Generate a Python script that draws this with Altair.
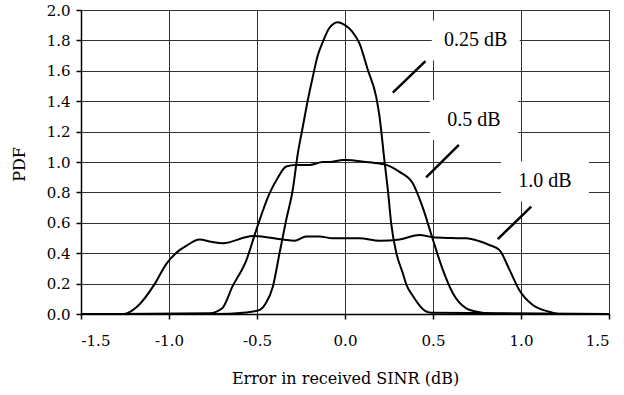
import altair as alt
import pandas as pd

# 0.25 dB curve
x025 = [-1.5, -0.75, -0.56, -0.486, -0.45, -0.41, -0.372, -0.334, -0.297, -0.268, -0.24, -0.211, -0.183,
        -0.155, -0.126, -0.09, -0.041, 0.0, 0.04, 0.082, 0.13, 0.177, 0.196, 0.224, 0.245, 0.262, 0.292,
        0.328, 0.35, 0.385, 0.44, 0.49, 1.5]
y025 = [0.0, 0.0, 0.01, 0.026, 0.07, 0.18, 0.40, 0.62, 0.816, 1.057, 1.23, 1.41, 1.56,
        1.70, 1.79, 1.88, 1.92, 1.90, 1.86, 1.78, 1.605, 1.43, 1.30, 1.01, 0.80, 0.60, 0.40,
        0.27, 0.19, 0.12, 0.035, 0.008, 0.0]

# 0.5 dB curve
x05 = [-1.5, -0.77, -0.696, -0.64, -0.56, -0.505, -0.43, -0.38, -0.334, -0.28, -0.202, -0.126, -0.088,
       -0.01, 0.007, 0.12, 0.196, 0.215, 0.31, 0.385, 0.44, 0.50, 0.556, 0.613, 0.689, 0.764, 0.84, 1.5]
y05 = [0.0, 0.005, 0.04, 0.18, 0.355, 0.55, 0.79, 0.90, 0.97, 0.98, 0.98, 1.0, 1.0,
       1.013, 1.013, 1.0, 0.99, 0.987, 0.935, 0.86, 0.706, 0.487, 0.29, 0.136, 0.037, 0.011, 0.0, 0.0]

# 1.0 dB curve
x10 = [-1.5, -1.26, -1.18, -1.08, -1.015, -0.94, -0.90, -0.827, -0.76, -0.694, -0.524, -0.353, -0.287,
       -0.22, -0.145, -0.07, 0.082, 0.196, 0.31, 0.423, 0.50, 0.60, 0.689, 0.76, 0.82, 0.878, 0.935,
       0.99, 1.067, 1.16, 1.22, 1.5]
y10 = [0.0, 0.0, 0.05, 0.2, 0.33, 0.42, 0.45, 0.49, 0.475, 0.465, 0.513, 0.49, 0.482,
       0.51, 0.51, 0.498, 0.498, 0.482, 0.49, 0.52, 0.505, 0.50, 0.498, 0.48, 0.454, 0.42, 0.29,
       0.158, 0.059, 0.015, 0.0, 0.0]

labels = ["0.25 dB", "0.5 dB", "1.0 dB"]
label_x = [0.743, 0.733, 1.136]
label_y = [1.80, 1.276, 0.872]
lead_x1 = [0.272, 0.461, 0.868]
lead_y1 = [1.456, 0.899, 0.493]
lead_x2 = [0.457, 0.647, 1.058]
lead_y2 = [1.664, 1.112, 0.706]

x_ticks = [-1.5, -1.0, -0.5, 0.0, 0.5, 1.0, 1.5]
y_ticks = [0.0, 0.2, 0.4, 0.6, 0.8, 1.0, 1.2, 1.4, 1.6, 1.8, 2.0]

rows = []
for name, xs, ys in [("0.25 dB", x025, y025), ("0.5 dB", x05, y05), ("1.0 dB", x10, y10)]:
    for xv, yv in zip(xs, ys):
        rows.append({"series": name, "x": xv, "y": yv})
curves = pd.DataFrame(rows)
ann = pd.DataFrame({"label": labels, "x": label_x, "y": label_y})
leads = pd.DataFrame({"x": lead_x1, "y": lead_y1, "x2": lead_x2, "y2": lead_y2})

xscale = alt.Scale(domain=[-1.5, 1.5], nice=False, zero=False)
yscale = alt.Scale(domain=[0, 2.0], nice=False)

label_expr = "datum.value < 0 ? '-' + format(-datum.value, '.1f') : format(datum.value, '.1f')"

common = dict(grid=True, gridColor="#333333", gridWidth=1, gridOpacity=1,
              domainColor="black", domainWidth=1.5, tickColor="black", tickWidth=1.5, tickSize=5,
              labelFont="DejaVu Serif", labelFontSize=15, labelColor="black", labelOverlap=False,
              titleFont="DejaVu Serif", titleFontSize=16, titleFontWeight="normal", titleColor="black")

xaxis = alt.Axis(values=x_ticks, labelExpr=label_expr,
                 title="Error in received SINR (dB)", labelPadding=14,
                 titleX=264, titleY=56, titleBaseline="top", titleAlign="center", **common)
yaxis = alt.Axis(values=y_ticks, format=".1f",
                 title="PDF", labelPadding=6,
                 titleX=-62, titleY=154, titleAngle=-90, titleBaseline="middle", titleAlign="center",
                 **common)

X = alt.X("x:Q", scale=xscale, axis=xaxis)
Y = alt.Y("y:Q", scale=yscale, axis=yaxis)

lines = alt.Chart(curves).mark_line(color="black", strokeWidth=2, interpolate="monotone").encode(
    x=X, y=Y, detail="series:N",
)

# white text boxes behind the labels (they hide the grid)
boxes = alt.Chart(ann).mark_rect(color="white", width=88, height=40).encode(x=X, y=Y)

text = alt.Chart(ann).mark_text(font="Liberation Serif", fontSize=20, color="black",
                                align="center", baseline="middle").encode(
    x=X, y=Y, text="label:N")

rules = alt.Chart(leads).mark_rule(color="black", strokeWidth=2.5).encode(
    x=X, y=Y, x2="x2:Q", y2="y2:Q")

chart = alt.layer(boxes, lines, rules, text).properties(
    width=528, height=304,
    background="white",
    autosize=alt.AutoSizeParams(type="none"),
    padding={"left": 81, "top": 10, "right": 15, "bottom": 81},
).configure_view(stroke="black", strokeWidth=1)

chart.save("out.html", embed_options={"renderer": "svg", "actions": False})
